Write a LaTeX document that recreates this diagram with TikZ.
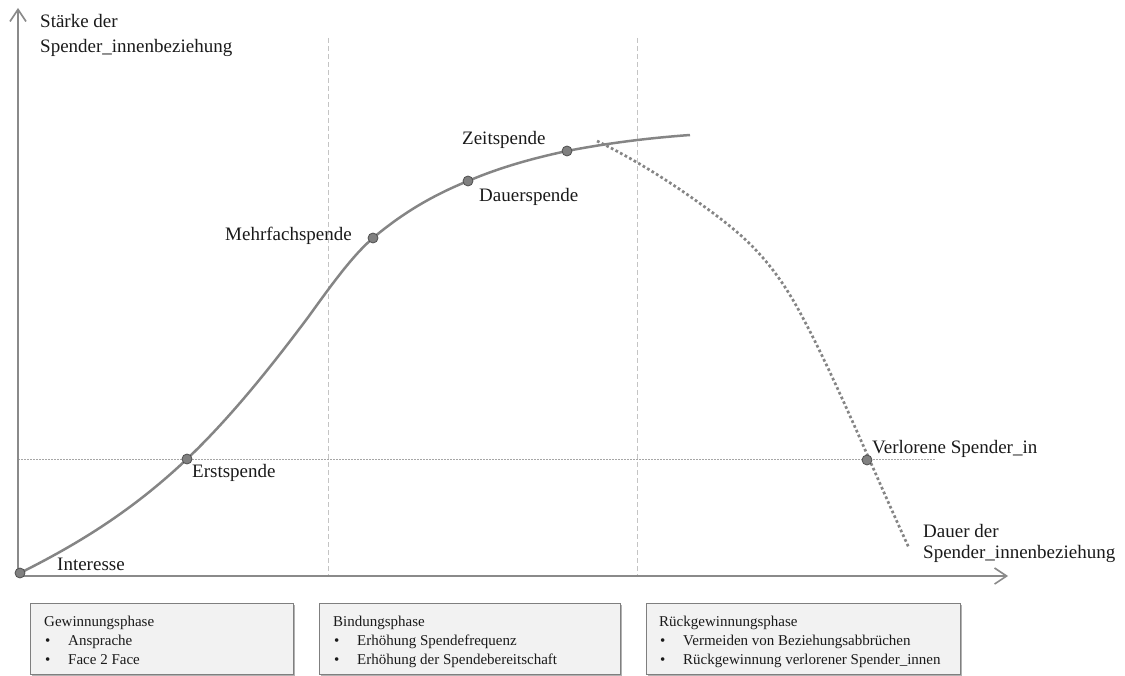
\documentclass[tikz,border=0pt]{standalone}
\usepackage{fontspec}
\setmainfont{Liberation Serif}
\usetikzlibrary{arrows.meta,shadows}
\definecolor{axisgray}{HTML}{8A8A8A}
\definecolor{curvegray}{HTML}{858585}
\definecolor{dotfill}{HTML}{808080}
\definecolor{dotdraw}{HTML}{4F4F4F}
\definecolor{guidegray}{HTML}{C4C4C4}
\definecolor{hguide}{HTML}{A6A6A6}
\definecolor{boxfill}{HTML}{F2F2F2}
\definecolor{boxdraw}{HTML}{7F7F7F}
\definecolor{txt}{HTML}{1A1A1A}
\begin{document}
\begin{tikzpicture}[x=1pt,y=-1pt,
  axis/.style={draw=axisgray, line width=1.6pt, -{Straight Barb[length=12pt,width=16pt]}},
  vguide/.style={draw=guidegray, line width=0.8pt, dash pattern=on 5pt off 3pt},
  hguideline/.style={draw=hguide, line width=0.8pt, dash pattern=on 2pt off 1pt},
  mcurve/.style={draw=curvegray, line width=2.5pt},
  lcurve/.style={draw=curvegray, line width=2.7pt, dash pattern=on 2.7pt off 2.5pt},
  dotpt/.style={circle, fill=dotfill, draw=dotdraw, line width=0.8pt, minimum size=10pt, inner sep=0pt},
  lbl/.style={anchor=base west, inner sep=0pt, text=txt, font=\fontsize{19}{23}\selectfont},
  btxt/.style={anchor=base west, inner sep=0pt, text=txt, font=\fontsize{15}{18}\selectfont},
  phasebox/.style={draw=boxdraw, fill=boxfill, line width=1.3pt, anchor=north west, minimum height=71pt, inner sep=0pt,
    drop shadow={shadow xshift=1.5pt, shadow yshift=-1.5pt, fill=black, opacity=0.3}}
]
\useasboundingbox (0,0) rectangle (1125,676);

% guides
\coordinate (v1t) at (328,38); \coordinate (v1b) at (328,575);
\coordinate (v2t) at (637,38); \coordinate (v2b) at (637,575);
\coordinate (hl) at (18,459); \coordinate (hr) at (935,459);
\draw[vguide] (v1t) -- (v1b);
\draw[vguide] (v2t) -- (v2b);
\draw[hguideline] (hl) -- (hr);

% axes
\coordinate (o) at (18,576);
\coordinate (ytop) at (18,8);
\coordinate (xend) at (1008,576);
\draw[axis] (o) -- (ytop);
\draw[axis] (o) -- (xend);

% main curve
\coordinate (pI) at (20,573);
\coordinate (pE) at (187,459);
\coordinate (pQ) at (309,316);
\coordinate (pM) at (373,238);
\coordinate (pD) at (468,181);
\coordinate (pZ) at (567,151);
\coordinate (pEnd) at (690,135);
\draw[mcurve] (pI) .. controls (76,545) and (131,512) .. (pE)
  .. controls (228,420) and (268,371) .. (pQ)
  .. controls (330,287) and (352,256) .. (pM)
  .. controls (405,211) and (436,194) .. (pD)
  .. controls (501,167) and (534,158) .. (pZ)
  .. controls (608,143) and (649,138) .. (pEnd);

% loss curve
\coordinate (lS) at (597,141);
\coordinate (lA) at (713,213);
\coordinate (lB) at (797,307);
\coordinate (lEnd) at (909,548);
\coordinate (pV) at (867,460);
\draw[lcurve] (lS) .. controls (636,160) and (674,184) .. (lA)
  .. controls (741,234) and (769,257) .. (lB)
  .. controls (834,374) and (872,468) .. (lEnd);

% dots
\node[dotpt] (dI) at (pI) {};
\node[dotpt] (dE) at (pE) {};
\node[dotpt] (dM) at (pM) {};
\node[dotpt] (dD) at (pD) {};
\node[dotpt] (dZ) at (pZ) {};
\node[dotpt] (dV) at (pV) {};

% labels
\node[lbl] (ylab1) at (40,28) {Stärke der};
\node[lbl] (ylab2) at (40,53) {Spender\_innenbeziehung};
\node[lbl] (lI) at (57,570) {Interesse};
\node[lbl] (lE) at (192,477) {Erstspende};
\node[lbl] (lMt) at (225,241) {Mehrfachspende};
\node[lbl] (lD) at (479,202) {Dauerspende};
\node[lbl] (lZ) at (462,145) {Zeitspende};
\node[lbl] (lV) at (872,453) {Verlorene Spender\_in};
\node[lbl] (xlab1) at (923,537) {Dauer der};
\node[lbl] (xlab2) at (923,558) {Spender\_innenbeziehung};

% phase boxes
\node[phasebox, minimum width=263pt] (b1) at (30,603) {};
\node[phasebox, minimum width=301pt] (b2) at (319,603) {};
\node[phasebox, minimum width=314pt] (b3) at (646,603) {};

\node[btxt] (t1) at (44,626) {Gewinnungsphase};
\node[btxt] (t1a) at (45,645) {\makebox[23pt][l]{\textbullet}Ansprache};
\node[btxt] (t1b) at (45,664) {\makebox[23pt][l]{\textbullet}Face 2 Face};

\node[btxt] (t2) at (333,626) {Bindungsphase};
\node[btxt] (t2a) at (334,645) {\makebox[23pt][l]{\textbullet}Erhöhung Spendefrequenz};
\node[btxt] (t2b) at (334,664) {\makebox[23pt][l]{\textbullet}Erhöhung der Spendebereitschaft};

\node[btxt] (t3) at (659,626) {Rückgewinnungsphase};
\node[btxt] (t3a) at (660,645) {\makebox[23pt][l]{\textbullet}Vermeiden von Beziehungsabbrüchen};
\node[btxt] (t3b) at (660,664) {\makebox[23pt][l]{\textbullet}Rückgewinnung verlorener Spender\_innen};
\end{tikzpicture}
\end{document}
